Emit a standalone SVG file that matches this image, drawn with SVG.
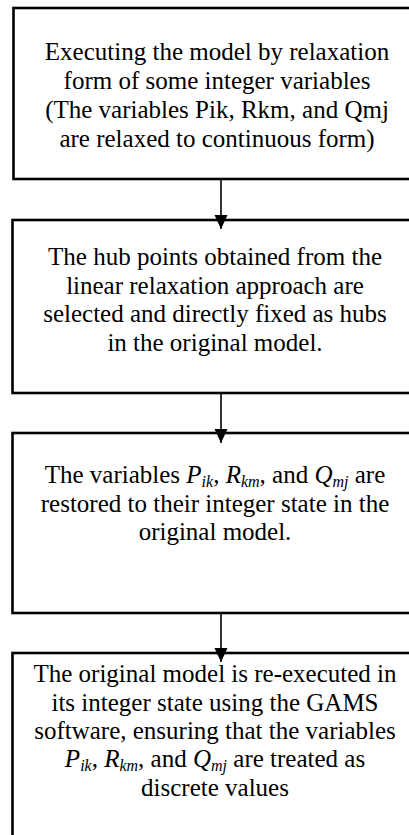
<svg xmlns="http://www.w3.org/2000/svg" width="409" height="835" viewBox="0 0 409 835">
<style>
.box{fill:#fff;stroke:#000;stroke-width:2.6}
.t{font-family:"Liberation Serif","Times New Roman",serif;font-size:25px;fill:#000;text-anchor:middle}
.i{font-style:italic}
.s{font-style:italic;font-size:16px}
.c{stroke:#000;stroke-width:1.6;fill:none}
</style>
<defs>
<marker id="ah" markerUnits="userSpaceOnUse" markerWidth="14" markerHeight="14" refX="14" refY="7" orient="auto" viewBox="0 0 14 14">
<path d="M0,0.5 L14,7 L0,13.5 Z" fill="#000"/>
</marker>
</defs>
<g id="n1">
<rect class="box" x="13.5" y="8" width="440" height="171"/>
<text class="t" x="217" y="60">Executing the model by relaxation</text>
<text class="t" x="217" y="89">form of some integer variables</text>
<text class="t" x="217" y="118">(The variables Pik, Rkm, and Qmj</text>
<text class="t" x="217" y="147">are relaxed to continuous form)</text>
</g>
<g id="n2">
<rect class="box" x="12.5" y="220" width="440" height="173"/>
<text class="t" x="215" y="265">The hub points obtained from the</text>
<text class="t" x="215" y="293.5">linear relaxation approach are</text>
<text class="t" x="215" y="322">selected and directly fixed as hubs</text>
<text class="t" x="215" y="350.5">in the original model.</text>
</g>
<g id="n3">
<rect class="box" x="12.5" y="433" width="440" height="180"/>
<text class="t" x="215" y="483">The variables <tspan class="i">P</tspan><tspan class="s" dy="4">ik</tspan><tspan dy="-4">, </tspan><tspan class="i">R</tspan><tspan class="s" dy="4">km</tspan><tspan dy="-4">, and </tspan><tspan class="i">Q</tspan><tspan class="s" dy="4">mj</tspan><tspan dy="-4"> are</tspan></text>
<text class="t" x="215" y="512">restored to their integer state in the</text>
<text class="t" x="215" y="540">original model.</text>
</g>
<g id="n4">
<rect class="box" x="12.5" y="653" width="440" height="200"/>
<text class="t" x="215" y="682">The original model is re-executed in</text>
<text class="t" x="215" y="710.5">its integer state using the GAMS</text>
<text class="t" x="215" y="739">software, ensuring that the variables</text>
<text class="t" x="215" y="767"><tspan class="i">P</tspan><tspan class="s" dy="4">ik</tspan><tspan dy="-4">, </tspan><tspan class="i">R</tspan><tspan class="s" dy="4">km</tspan><tspan dy="-4">, and </tspan><tspan class="i">Q</tspan><tspan class="s" dy="4">mj</tspan><tspan dy="-4"> are treated as</tspan></text>
<text class="t" x="215" y="795.5">discrete values</text>
</g>
<g id="connectors">
<line class="c" x1="221" y1="179" x2="221" y2="229" marker-end="url(#ah)"/>
<line class="c" x1="221" y1="393" x2="221" y2="443" marker-end="url(#ah)"/>
<line class="c" x1="221" y1="613" x2="221" y2="662" marker-end="url(#ah)"/>
</g>
</svg>
